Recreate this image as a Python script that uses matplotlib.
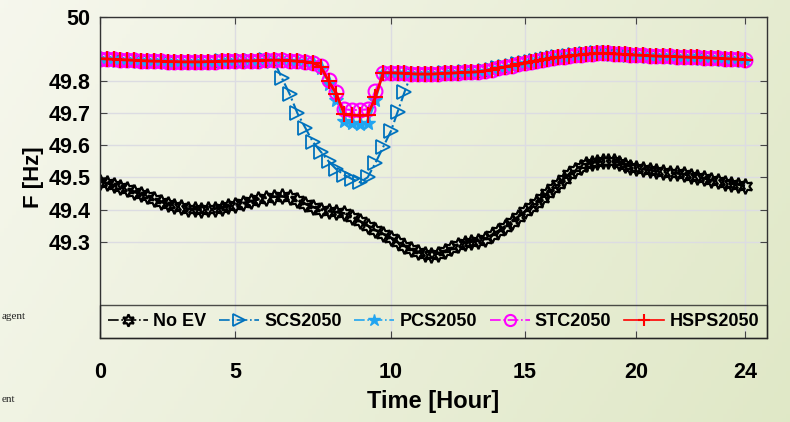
import numpy as np
import matplotlib
matplotlib.use("Agg")
import matplotlib.pyplot as plt

plt.rcParams['font.family'] = ['Liberation Sans', 'DejaVu Sans']
plt.rcParams['font.weight'] = 'bold'

# time axis, 0.25 h steps
hours = np.arange(0, 24.01, 0.25)

no_ev = [49.487, 49.482, 49.476, 49.470, 49.463, 49.456, 49.449, 49.441,
         49.433, 49.425, 49.418, 49.412, 49.407, 49.403, 49.401, 49.400,
         49.401, 49.403, 49.406, 49.410, 49.415, 49.420, 49.426, 49.432,
         49.437, 49.440, 49.441, 49.439, 49.430, 49.418, 49.408, 49.400,
         49.395, 49.392, 49.388, 49.378, 49.364, 49.350, 49.336, 49.324,
         49.312, 49.300, 49.288, 49.276, 49.268, 49.263, 49.260, 49.263,
         49.270, 49.280, 49.290, 49.297, 49.300, 49.303, 49.308, 49.320,
         49.333, 49.347, 49.362, 49.378, 49.394, 49.408, 49.422, 49.437,
         49.451, 49.466, 49.481, 49.496, 49.511, 49.522, 49.533, 49.541,
         49.546, 49.549, 49.551, 49.552, 49.550, 49.546, 49.540, 49.534,
         49.529, 49.526, 49.523, 49.520, 49.517, 49.515, 49.513, 49.510,
         49.506, 49.501, 49.497, 49.492, 49.488, 49.484, 49.481, 49.478,
         49.474]

# common plateau shared by the EV cases (0-7.5 h and 9.75-24 h)
head = [49.870, 49.869, 49.868, 49.867, 49.866, 49.865, 49.864, 49.863,
        49.862, 49.862, 49.861, 49.861, 49.860, 49.860, 49.860, 49.860,
        49.861, 49.861, 49.862, 49.862, 49.862, 49.863, 49.863, 49.864,
        49.865, 49.865, 49.865, 49.864, 49.862, 49.860, 49.857]
tail = [49.826, 49.826, 49.825, 49.824, 49.823, 49.822, 49.822, 49.822,
        49.823, 49.824, 49.825, 49.826, 49.827, 49.828, 49.829, 49.832,
        49.836, 49.840, 49.844, 49.848, 49.852, 49.855, 49.859, 49.863,
        49.866, 49.869, 49.872, 49.874, 49.876, 49.878, 49.880, 49.882,
        49.884, 49.885, 49.886, 49.886, 49.886, 49.885, 49.884, 49.883,
        49.882, 49.881, 49.880, 49.879, 49.878, 49.877, 49.877, 49.876,
        49.875, 49.874, 49.874, 49.873, 49.872, 49.871, 49.870, 49.869,
        49.868, 49.867]

# 7.75 h .. 9.5 h
hsps_dip = [49.845, 49.800, 49.760, 49.697, 49.694, 49.693, 49.694, 49.750]
stc_dip = [49.848, 49.805, 49.765, 49.712, 49.710, 49.710, 49.712, 49.770]
pcs_dip = [49.840, 49.790, 49.740, 49.675, 49.668, 49.667, 49.668, 49.740]

# SCS leaves the plateau at 6.25 h and comes back at 10.75 h
scs_dip = [49.862, 49.810, 49.760, 49.700, 49.655, 49.610, 49.580, 49.550,
           49.525, 49.508, 49.495, 49.485, 49.500, 49.545, 49.595, 49.645,
           49.705, 49.765, 49.822]

hsps = head + hsps_dip + tail
stc = head + stc_dip + tail
pcs = head + pcs_dip + tail
scs = head[:25] + scs_dip + tail[5:]

# the original x axis is not evenly spaced between its ticks
hour_knots = [0, 5, 10, 15, 20, 24, 26]
pos_knots = [0, 135, 291, 425, 536, 645, 700]

def fwd(x):
    return np.interp(x, hour_knots, pos_knots)

def inv(x):
    return np.interp(x, pos_knots, hour_knots)

fig = plt.figure(figsize=(7.9, 4.22), dpi=100)

# gradient background
bg = fig.add_axes([0, 0, 1, 1], zorder=-10)
gx, gy = np.meshgrid(np.linspace(0, 1, 200), np.linspace(0, 1, 100))
t = (gx * 0.75 + gy * 0.25)
c0 = np.array([0.965, 0.969, 0.930])
c1 = np.array([0.878, 0.910, 0.780])
img = c0[None, None, :] * (1 - t[..., None]) + c1[None, None, :] * t[..., None]
bg.imshow(img, aspect='auto', extent=[0, 1, 0, 1], origin='upper')
bg.axis('off')

fig.text(0.002, 0.243, "agent", family='Liberation Serif', fontsize=8, weight='normal', color='#222222')
fig.text(0.002, 0.048, "ent", family='Liberation Serif', fontsize=8, weight='normal', color='#222222')

ax = fig.add_axes([0.1266, 0.199, 0.8443, 0.761])
ax.set_facecolor('none')
ax.set_xscale('function', functions=(fwd, inv))

ax.plot(hours, no_ev, color='black', linestyle='-.', linewidth=2,
        marker=(6, 1, 0), markersize=11, markerfacecolor='none',
        markeredgewidth=1.6, label='No EV')
ax.plot(hours, scs, color='#0072BD', linestyle='-.', linewidth=1.5,
        marker='>', markersize=10, markerfacecolor='none',
        markeredgewidth=1.3, label='SCS2050')
ax.plot(hours, pcs, color='#22A5F0', linestyle='-.', linewidth=1.5,
        marker='*', markersize=11, label='PCS2050')
ax.plot(hours, stc, color='#FF00FF', linestyle='-.', linewidth=1.5,
        marker='o', markersize=10, markerfacecolor='none',
        markeredgewidth=1.5, label='STC2050')
ax.plot(hours, hsps, color='#FF0000', linestyle='-', linewidth=2,
        marker='+', markersize=11, markeredgewidth=1.5, label='HSPS2050')

ax.set_xlim(0, 24.8)
ax.set_ylim(49, 50)
ax.set_xticks([0, 5, 10, 15, 20, 24])
ax.set_yticks([49.3, 49.4, 49.5, 49.6, 49.7, 49.8, 50])
ax.set_yticklabels(['49.3', '49.4', '49.5', '49.6', '49.7', '49.8', '50'])
ax.minorticks_off()
ax.tick_params(direction='in', length=5, width=0.8, labelsize=15.5,
               top=True, right=True, color='#444444')
ax.tick_params(axis='x', pad=17)
ax.tick_params(axis='y', pad=7)
ax.grid(True, color='#dcdce2', linewidth=1)
for s in ax.spines.values():
    s.set_color('#333333')
    s.set_linewidth(1)

ax.set_xlabel('Time [Hour]', fontsize=17, weight='bold', labelpad=5)
ax.set_ylabel('F [Hz]', fontsize=16, weight='bold', labelpad=3)

leg = ax.legend(loc='lower left', bbox_to_anchor=(0, 0, 1, 0.12), mode='expand',
                ncol=5, fontsize=13, frameon=True, fancybox=False,
                edgecolor='#222222', facecolor='none', handlelength=2.2,
                handletextpad=0.3, columnspacing=0.4, borderaxespad=0,
                borderpad=0.45, markerscale=0.8)
leg.get_frame().set_linewidth(1)
for h in leg.get_lines():
    h.set_linewidth(1.2)

fig.savefig('out.png', dpi=100)
